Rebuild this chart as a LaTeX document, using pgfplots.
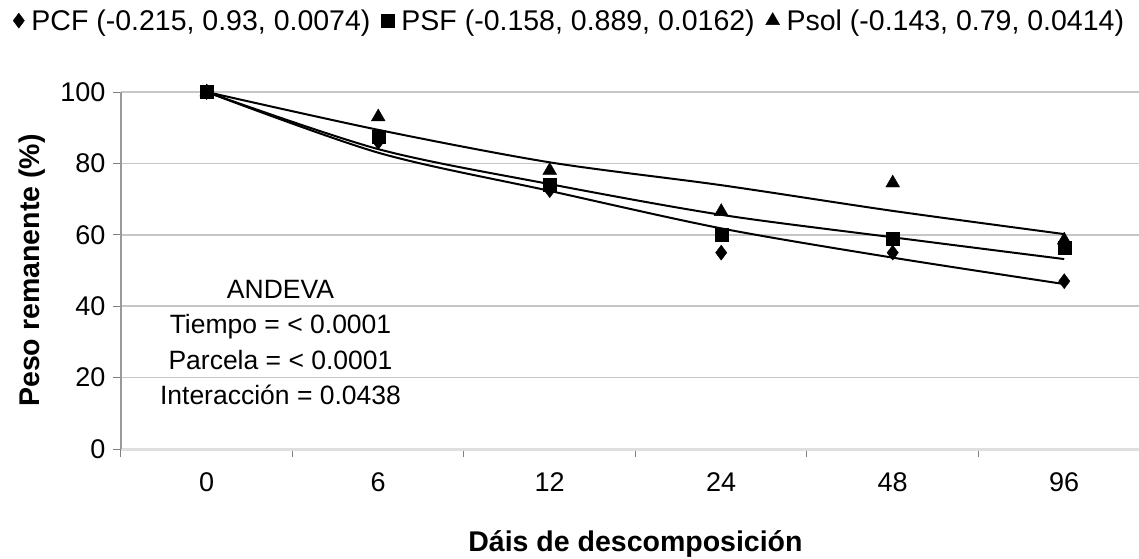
\documentclass[border=0pt]{standalone}
\usepackage{pgfplots}
\pgfplotsset{compat=1.18}
\usepackage{fontspec}
\setmainfont{Liberation Sans}
\begin{document}
\begin{tikzpicture}
\useasboundingbox (-121pt,-109pt) rectangle (1018pt,449pt);
\begin{axis}[
 scale only axis, width=1029pt, height=357pt,
 xmin=-0.5, xmax=5.5, ymin=0, ymax=100,
 xtick={0,...,5}, xticklabels={0,6,12,24,48,96},
 major x tick style={draw=none},
 minor xtick={-0.5,0.5,...,5.5},
 ytick={0,20,...,100},
 tick align=outside,
 major tick length=8pt, minor tick length=8pt,
 tick style={gray, line width=1pt},
 axis x line*=bottom, axis y line*=left,
 x axis line style={-, draw=gray!25, line width=3pt},
 y axis line style={-, draw=gray!80, line width=1.2pt},
 ymajorgrids, grid style={gray!45, line width=1.5pt},
 /pgf/number format/assume math mode=true,
 ticklabel style={font=\fontsize{27}{27}\selectfont},
 xticklabel style={yshift=-12pt},
 yticklabel style={xshift=-4pt},
 xlabel={\bfseries Dáis de descomposición},
 ylabel={\bfseries Peso remanente (\%)},
 label style={font=\fontsize{28.5}{28.5}\selectfont},
 x label style={yshift=-32pt},
 y label style={yshift=8pt},
 legend style={at={(axis description cs:0.436,1.2)}, anchor=center, draw=none,
   font=\fontsize{28.5}{28.5}\selectfont, inner sep=0pt,
   /tikz/every odd column/.append style={column sep=5pt},
   /tikz/every even column/.append style={column sep=9pt}},
 legend columns=3,
 legend cell align=left,
]
\addplot[only marks, mark=diamond*, mark size=7.5pt, black] coordinates {(0,100)(1,86)(2,72.5)(3,55)(4,55)(5,47)};
\addlegendentry{PCF (-0.215, 0.93, 0.0074)}
\addplot[only marks, mark=square*, mark size=6.5pt, black] coordinates {(0,100)(1,87.5)(2,74)(3,60)(4,59)(5,56.5)};
\addlegendentry{PSF (-0.158, 0.889, 0.0162)}
\addplot[only marks, mark=triangle*, mark size=8pt, black] coordinates {(0,100)(1,93)(2,78)(3,66.5)(4,74.5)(5,58.5)};
\addlegendentry{Psol (-0.143, 0.79, 0.0414)}
\addplot[forget plot, black, line width=2pt, smooth, no marks] coordinates {(0,100)(1,83)(2,72.3)(3,61.8)(4,53.6)(5,46.2)};
\addplot[forget plot, black, line width=2pt, smooth, no marks] coordinates {(0,100)(1,84)(2,74.2)(3,65.6)(4,59.3)(5,53.2)};
\addplot[forget plot, black, line width=2pt, smooth, no marks] coordinates {(0,100)(1,89.4)(2,80.3)(3,73.9)(4,66.7)(5,60.2)};
\node[align=center, font=\fontsize{26.5}{35.5}\selectfont] at (axis cs:0.43,29.8)
  {ANDEVA\\Tiempo = < 0.0001\\Parcela = < 0.0001\\Interacción = 0.0438};
\end{axis}
\end{tikzpicture}
\end{document}
